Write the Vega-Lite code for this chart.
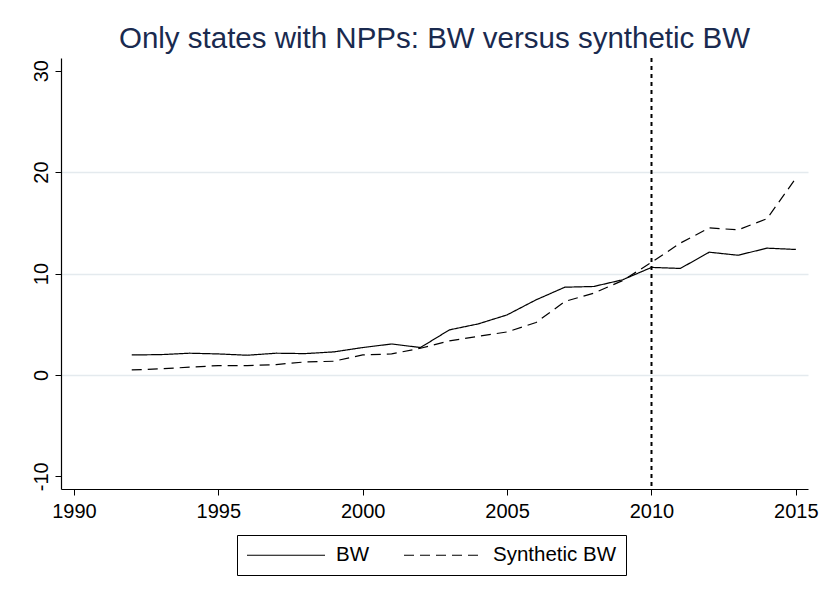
{
  "$schema": "https://vega.github.io/schema/vega-lite/v6.json",
  "description": "Only states with NPPs: BW versus synthetic BW",
  "autosize": {"type": "none"},
  "width": 747,
  "height": 431,
  "padding": {"left": 61, "top": 58, "right": 22, "bottom": 115},
  "background": "white",
  "config": {
    "view": {"stroke": null},
    "font": "Liberation Sans",
    "axis": {
      "labelFont": "Liberation Sans",
      "labelColor": "black",
      "labelFontSize": 20,
      "domainColor": "black",
      "domainWidth": 1.2,
      "tickColor": "black",
      "tickWidth": 1,
      "tickSize": 6,
      "titleFontSize": 14
    }
  },
  "title": {
    "text": "Only states with NPPs: BW versus synthetic BW",
    "font": "Liberation Sans",
    "fontSize": 29.5,
    "fontWeight": "normal",
    "color": "#1a2a4f",
    "anchor": "middle",
    "offset": 3
  },
  "data": {
    "values": [
      {"year": 1992, "series": "BW", "value": 1.97},
      {"year": 1993, "series": "BW", "value": 2.0},
      {"year": 1994, "series": "BW", "value": 2.14},
      {"year": 1995, "series": "BW", "value": 2.07},
      {"year": 1996, "series": "BW", "value": 1.94},
      {"year": 1997, "series": "BW", "value": 2.14},
      {"year": 1998, "series": "BW", "value": 2.1},
      {"year": 1999, "series": "BW", "value": 2.27},
      {"year": 2000, "series": "BW", "value": 2.7},
      {"year": 2001, "series": "BW", "value": 3.05},
      {"year": 2002, "series": "BW", "value": 2.7},
      {"year": 2003, "series": "BW", "value": 4.44},
      {"year": 2004, "series": "BW", "value": 5.03},
      {"year": 2005, "series": "BW", "value": 5.92},
      {"year": 2006, "series": "BW", "value": 7.4},
      {"year": 2007, "series": "BW", "value": 8.65},
      {"year": 2008, "series": "BW", "value": 8.72},
      {"year": 2009, "series": "BW", "value": 9.38},
      {"year": 2010, "series": "BW", "value": 10.6},
      {"year": 2011, "series": "BW", "value": 10.5},
      {"year": 2012, "series": "BW", "value": 12.1},
      {"year": 2013, "series": "BW", "value": 11.8},
      {"year": 2014, "series": "BW", "value": 12.5},
      {"year": 2015, "series": "BW", "value": 12.37},
      {"year": 1992, "series": "Synthetic BW", "value": 0.49},
      {"year": 1993, "series": "Synthetic BW", "value": 0.6},
      {"year": 1994, "series": "Synthetic BW", "value": 0.76},
      {"year": 1995, "series": "Synthetic BW", "value": 0.92},
      {"year": 1996, "series": "Synthetic BW", "value": 0.92},
      {"year": 1997, "series": "Synthetic BW", "value": 1.02},
      {"year": 1998, "series": "Synthetic BW", "value": 1.28},
      {"year": 1999, "series": "Synthetic BW", "value": 1.35},
      {"year": 2000, "series": "Synthetic BW", "value": 1.97},
      {"year": 2001, "series": "Synthetic BW", "value": 2.07},
      {"year": 2002, "series": "Synthetic BW", "value": 2.63},
      {"year": 2003, "series": "Synthetic BW", "value": 3.35},
      {"year": 2004, "series": "Synthetic BW", "value": 3.8},
      {"year": 2005, "series": "Synthetic BW", "value": 4.24},
      {"year": 2006, "series": "Synthetic BW", "value": 5.16},
      {"year": 2007, "series": "Synthetic BW", "value": 7.24},
      {"year": 2008, "series": "Synthetic BW", "value": 8.06},
      {"year": 2009, "series": "Synthetic BW", "value": 9.3},
      {"year": 2010, "series": "Synthetic BW", "value": 11.1},
      {"year": 2011, "series": "Synthetic BW", "value": 13.0},
      {"year": 2012, "series": "Synthetic BW", "value": 14.5},
      {"year": 2013, "series": "Synthetic BW", "value": 14.3},
      {"year": 2014, "series": "Synthetic BW", "value": 15.4},
      {"year": 2015, "series": "Synthetic BW", "value": 19.4}
    ]
  },
  "layer": [
    {
      "mark": {"type": "line", "color": "black", "strokeWidth": 1.2, "clip": true},
      "encoding": {
        "x": {
          "field": "year",
          "type": "quantitative",
          "scale": {"domain": [1989.55, 2015.42], "nice": false, "zero": false},
          "axis": {
            "title": null,
            "values": [1990, 1995, 2000, 2005, 2010, 2015],
            "format": "d",
            "grid": false,
            "labelPadding": 6
          }
        },
        "y": {
          "field": "value",
          "type": "quantitative",
          "scale": {"domain": [-11.25, 31.25], "nice": false, "zero": false},
          "axis": {
            "title": null,
            "values": [-10, 0, 10, 20, 30],
            "labelExpr": "datum.value + ''",
            "labelAngle": -90,
            "labelPadding": 4,
            "grid": true,
            "gridColor": "#e4eaee",
            "gridWidth": 1.5,
            "gridOpacity": {"condition": {"test": "datum.value == 30 || datum.value == -10", "value": 0}, "value": 1}
          }
        },
        "strokeDash": {
          "field": "series",
          "type": "nominal",
          "scale": {"domain": ["BW", "Synthetic BW"], "range": [[1, 0], [10, 6]]},
          "legend": {
            "title": null,
            "orient": "none",
            "legendX": 176,
            "legendY": 477,
            "direction": "horizontal",
            "strokeColor": "black",
            "padding": 9,
            "symbolType": "M-3.9,0H3.9",
            "symbolSize": 400,
            "symbolStrokeWidth": 1.2,
            "symbolStrokeColor": "black",
            "symbolOffset": 29,
            "labelOffset": 39,
            "labelExpr": "datum.label == 'Synthetic BW' ? datum.label + '  ' : datum.label",
            "labelFont": "Liberation Sans",
            "labelFontSize": 20.5,
            "labelColor": "black",
            "columnPadding": 31
          }
        }
      }
    },
    {
      "data": {"values": [{"year": 2010}]},
      "mark": {"type": "rule", "color": "black", "strokeWidth": 2, "strokeDash": [4, 4]},
      "encoding": {
        "x": {"field": "year", "type": "quantitative"}
      }
    }
  ]
}
